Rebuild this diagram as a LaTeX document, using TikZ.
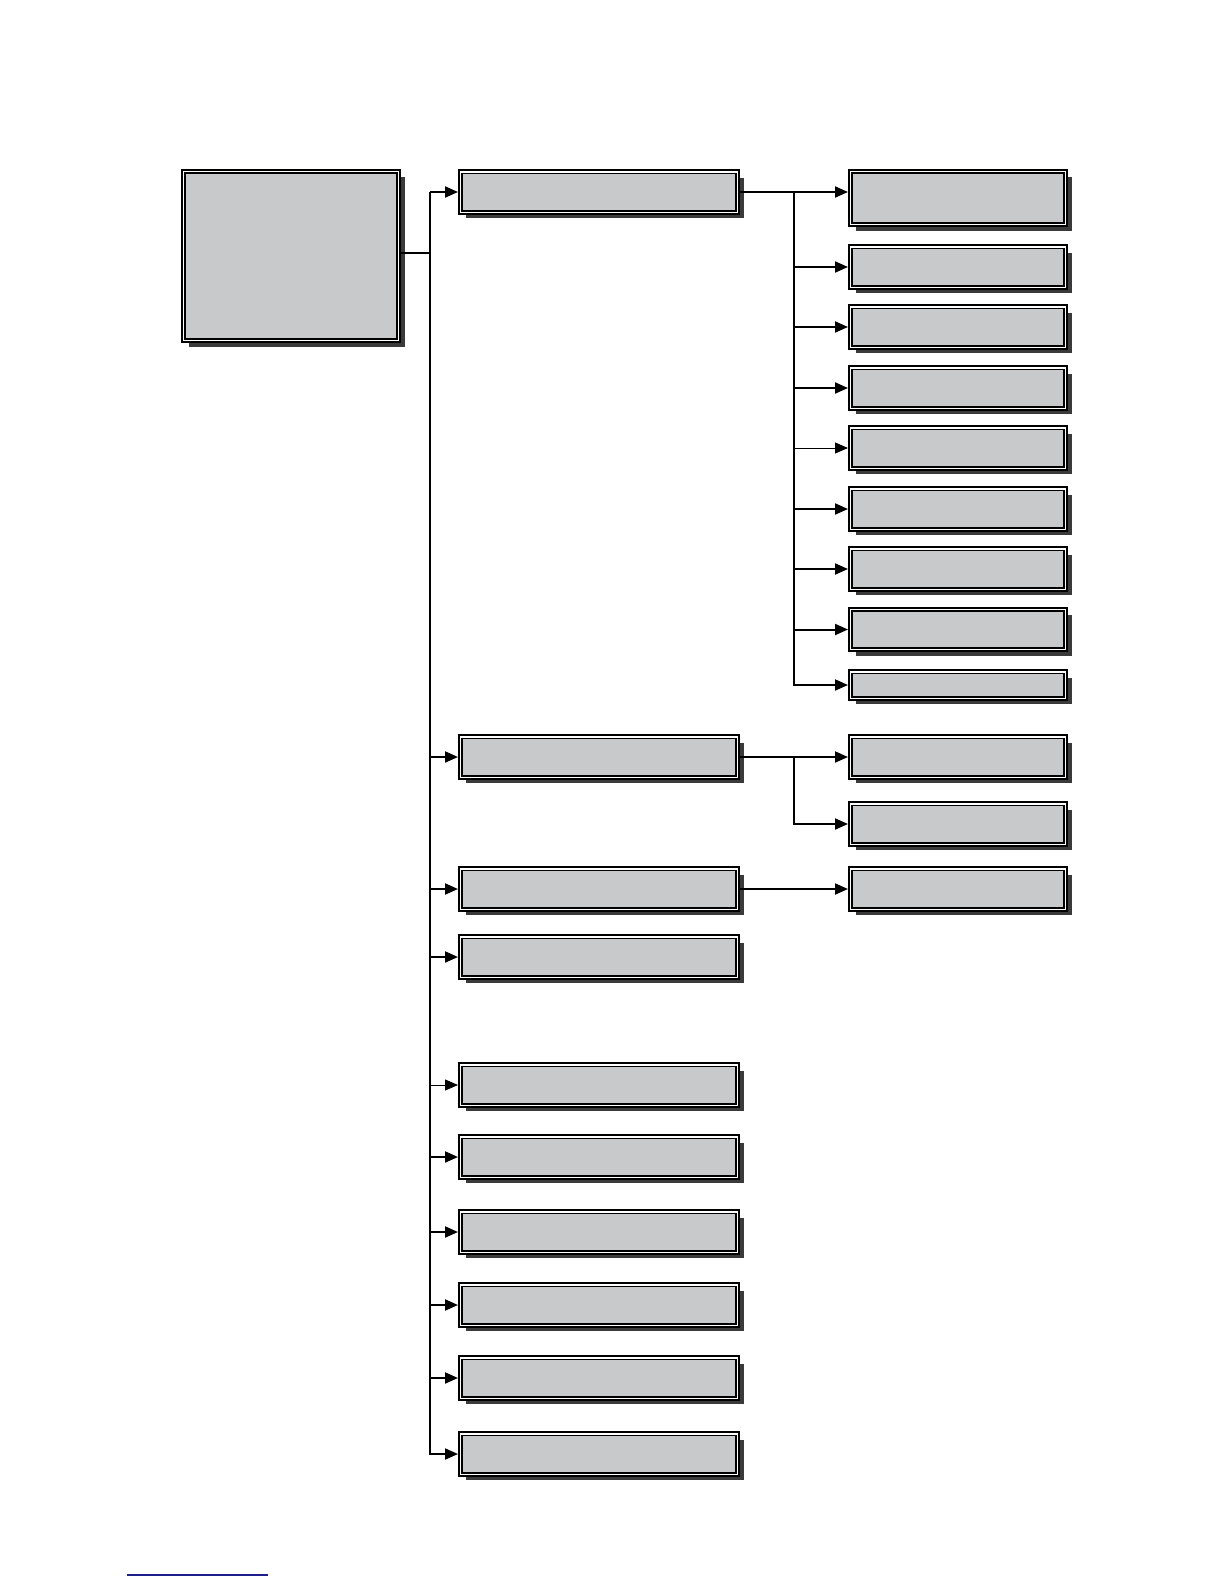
\documentclass[tikz,border=0pt]{standalone}
\usetikzlibrary{arrows.meta,shadows}
\definecolor{boxgray}{RGB}{200,201,203}
\definecolor{shadowgray}{RGB}{58,58,58}
\definecolor{linkblue}{RGB}{30,30,140}
\tikzset{
  gbox/.style={draw=black, fill=boxgray, line width=0.95pt, double=white, double distance=0.6pt,
    inner sep=0pt, outer sep=1.2pt, rectangle,
    drop shadow={shadow xshift=3pt, shadow yshift=-3pt, fill=shadowgray, opacity=1}},
  childbox/.style={gbox, minimum width=138.6pt, minimum height=20.1pt},
  grandbox/.style={gbox, minimum width=107.6pt, minimum height=20.1pt},
  conn/.style={line width=1pt, line join=miter},
  thinconn/.style={line width=0.5pt},
  arr/.style={conn, -{Triangle[length=6.5pt,width=5.5pt]}},
  thinarr/.style={thinconn, -{Triangle[length=6.5pt,width=5.5pt]}},
}
\begin{document}
\begin{tikzpicture}[x=0.5pt,y=-0.5pt]
\useasboundingbox (0,0) rectangle (1224,1584);
\fill[white] (0,0) rectangle (1224,1584);

% root
\node[gbox, minimum width=107.6pt, minimum height=84.6pt] (root) at (291,256) {};

% children
\node[childbox] (c1) at (599,192) {};
\node[childbox] (c2) at (599,757) {};
\node[childbox] (c3) at (599,889) {};
\node[childbox] (c4) at (599,957) {};
\node[childbox] (c5) at (599,1085) {};
\node[childbox] (c6) at (599,1157) {};
\node[childbox] (c7) at (599,1232) {};
\node[childbox] (c8) at (599,1305) {};
\node[childbox] (c9) at (599,1378) {};
\node[childbox] (c10) at (599,1454) {};

% grandchildren
\node[grandbox, minimum height=26.6pt] (g1) at (958,198) {};
\node[grandbox] (g2) at (958,267) {};
\node[grandbox] (g3) at (958,327) {};
\node[grandbox] (g4) at (958,388) {};
\node[grandbox] (g5) at (958,448) {};
\node[grandbox] (g6) at (958,509) {};
\node[grandbox] (g7) at (958,569) {};
\node[grandbox] (g8) at (958,629.5) {};
\node[grandbox, minimum height=13.1pt] (g9) at (958,685) {};
\node[grandbox] (g10) at (958,757) {};
\node[grandbox] (g11) at (958,824) {};
\node[grandbox] (g12) at (958,889) {};

% junction coordinates
\coordinate (tk) at (430,0);
\coordinate (bk) at (794,0);
\coordinate (rj) at ([yshift=1.5pt]root.east);

% root to trunk
\draw[conn] (rj) -- (tk |- rj);
% trunk and arrows to children
\draw[arr] (tk |- c1.west) -- (c1.west);
\draw[arr] (tk |- c1.west) |- (c10.west);
\draw[arr] (tk |- c2.west) -- (c2.west);
\draw[arr] (tk |- c3.west) -- (c3.west);
\draw[arr] (tk |- c4.west) -- (c4.west);
\draw[thinarr] (tk |- c5.west) -- (c5.west);
\draw[arr] (tk |- c6.west) -- (c6.west);
\draw[arr] (tk |- c7.west) -- (c7.west);
\draw[arr] (tk |- c8.west) -- (c8.west);
\draw[arr] (tk |- c9.west) -- (c9.west);

% branch of c1
\draw[conn] (c1.east) -- (bk |- c1.east);
\draw[arr] (bk |- c1.east) -- (g1.west |- c1.east);
\draw[arr] (bk |- c1.east) |- (g9.west);
\draw[arr] (bk |- g2.west) -- (g2.west);
\draw[arr] (bk |- g3.west) -- (g3.west);
\draw[arr] (bk |- g4.west) -- (g4.west);
\draw[thinarr] (bk |- g5.west) -- (g5.west);
\draw[arr] (bk |- g6.west) -- (g6.west);
\draw[arr] (bk |- g7.west) -- (g7.west);
\draw[arr] (bk |- g8.west) -- (g8.west);

% branch of c2
\draw[arr] (c2.east) -- (g10.west);
\draw[arr] (bk |- c2.east) |- (g11.west);

% branch of c3
\draw[arr] (c3.east) -- (g12.west);

% blue underline at bottom
\coordinate (ula) at (127,1575);
\coordinate (ulb) at (268,1575);
\draw[linkblue, line width=0.8pt] (ula) -- (ulb);
\end{tikzpicture}
\end{document}
